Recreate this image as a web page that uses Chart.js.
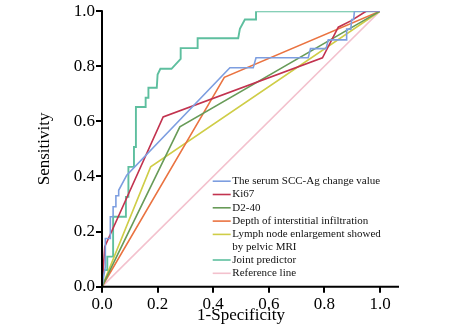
<!DOCTYPE html>
<html>
<head>
<meta charset="utf-8">
<script src="https://cdn.jsdelivr.net/npm/chart.js@4.4.0/dist/chart.umd.min.js"></script>
<style>
  html, body { margin: 0; padding: 0; background: #fff; }
  #rocChart { display: block; }
</style>
</head>
<body>
<canvas id="rocChart" width="473" height="332"></canvas>
<script>
const FONT = "'Liberation Serif', 'Times New Roman', serif";

// tick values on both axes
const axisTicks = [0, 0.2, 0.4, 0.6, 0.8, 1.0];

// ROC curves (x = 1-specificity, y = sensitivity)
const sccX = [0, 0.012, 0.012, 0.03, 0.03, 0.04, 0.04, 0.05, 0.05, 0.06, 0.06, 0.089, 0.46, 0.544, 0.554, 0.742, 0.75, 0.806, 0.814, 0.878, 0.88, 0.895, 0.898, 0.905, 0.908, 1];
const sccY = [0, 0.072, 0.175, 0.175, 0.254, 0.254, 0.29, 0.29, 0.33, 0.33, 0.35, 0.405, 0.795, 0.795, 0.831, 0.831, 0.864, 0.864, 0.896, 0.896, 0.935, 0.935, 0.97, 0.97, 1, 1];

const ki67X = [0, 0.01, 0.22, 0.793, 0.85, 0.895, 0.95, 1];
const ki67Y = [0, 0.145, 0.616, 0.831, 0.942, 0.965, 1, 1];

const d240X = [0, 0.28, 1];
const d240Y = [0, 0.58, 1];

const depthX = [0, 0.44, 1];
const depthY = [0, 0.76, 1];

const lymphX = [0, 0.175, 1];
const lymphY = [0, 0.435, 1];

const jointX = [0, 0.004, 0.019, 0.019, 0.04, 0.04, 0.086, 0.086, 0.095, 0.095, 0.115, 0.115, 0.122, 0.122, 0.157, 0.157, 0.167, 0.167, 0.197, 0.2, 0.21, 0.25, 0.283, 0.283, 0.344, 0.344, 0.49, 0.496, 0.514, 0.554, 0.554, 1];
const jointY = [0, 0.06, 0.06, 0.109, 0.109, 0.254, 0.254, 0.326, 0.326, 0.435, 0.435, 0.507, 0.507, 0.652, 0.652, 0.686, 0.686, 0.722, 0.722, 0.77, 0.791, 0.791, 0.827, 0.866, 0.866, 0.902, 0.902, 0.936, 0.97, 0.97, 1, 1];

const refX = [0, 1];
const refY = [0, 1];

const seriesNames = [
    'The serum SCC-Ag change value',
    'Ki67',
    'D2-40',
    'Depth of interstitial infiltration',
    ['Lymph node enlargement showed', 'by pelvic MRI'],
    'Joint predictor',
    'Reference line'
];

const seriesColors = [
    '#7d9ee0',  // blue
    '#c2334f',  // crimson
    '#689b58',  // green
    '#ea7341',  // orange
    '#cfcd47',  // yellow
    '#5ebf9f',  // teal
    '#f3c1cd'   // pink
];

function toPoints(xs, ys) {
    return xs.map((x, i) => ({ x: x, y: ys[i] }));
}

const seriesData = [
    toPoints(sccX, sccY),
    toPoints(ki67X, ki67Y),
    toPoints(d240X, d240Y),
    toPoints(depthX, depthY),
    toPoints(lymphX, lymphY),
    toPoints(jointX, jointY),
    toPoints(refX, refY)
];

// legend drawn inside the plot, lower right
const insideLegend = {
    id: 'insideLegend',
    afterDraw(chart) {
        const ctx = chart.ctx;
        const area = chart.chartArea;
        const lineX = area.left + 110.7;
        const textX = lineX + 19.6;
        let y = area.bottom - 105.5;
        ctx.save();
        ctx.font = '11px ' + FONT;
        ctx.textBaseline = 'middle';
        ctx.textAlign = 'left';
        chart.data.datasets.forEach((ds, i) => {
            const lines = Array.isArray(seriesNames[i]) ? seriesNames[i] : [seriesNames[i]];
            ctx.strokeStyle = ds.borderColor;
            ctx.lineWidth = 1.6;
            ctx.beginPath();
            ctx.moveTo(lineX, y);
            ctx.lineTo(lineX + 18, y);
            ctx.stroke();
            ctx.fillStyle = '#111';
            lines.forEach((t, k) => ctx.fillText(t, textX, y + k * 12.3));
            y += 13.3 + (lines.length - 1) * 12.3;
        });
        ctx.restore();
    }
};

// outward tick marks and the x axis line running a little past 1.0
const axisMarks = {
    id: 'axisMarks',
    afterDraw(chart) {
        const ctx = chart.ctx;
        const xs = chart.scales.x;
        const ys = chart.scales.y;
        const x0 = xs.getPixelForValue(0);
        const y0 = ys.getPixelForValue(0);
        ctx.save();
        ctx.strokeStyle = '#000';
        ctx.lineWidth = 2;
        ctx.beginPath();
        ctx.moveTo(x0 - 1, y0);
        ctx.lineTo(xs.right + 19, y0);
        ctx.moveTo(x0, y0 + 1);
        ctx.lineTo(x0, ys.getPixelForValue(1) - 1);
        axisTicks.forEach(v => {
            const px = Math.round(xs.getPixelForValue(v));
            ctx.moveTo(px, y0);
            ctx.lineTo(px, y0 + 6);
            const py = Math.round(ys.getPixelForValue(v));
            ctx.moveTo(x0, py);
            ctx.lineTo(x0 - 6, py);
        });
        ctx.stroke();
        ctx.restore();
    }
};

const tickFont = { family: FONT, size: 17 };

const ctx = document.getElementById('rocChart').getContext('2d');
new Chart(ctx, {
    type: 'line',
    data: {
        datasets: seriesData.map((pts, i) => ({
            label: Array.isArray(seriesNames[i]) ? seriesNames[i].join(' ') : seriesNames[i],
            data: pts,
            borderColor: seriesColors[i],
            backgroundColor: seriesColors[i],
            borderWidth: i === 5 ? 1.9 : 1.6,
            pointRadius: 0,
            tension: 0,
            fill: false
        }))
    },
    options: {
        responsive: false,
        animation: false,
        devicePixelRatio: 1,
        layout: { padding: { left: 30, right: 93, top: 9, bottom: 4 } },
        plugins: {
            legend: { display: false },
            tooltip: { enabled: false }
        },
        scales: {
            x: {
                type: 'linear',
                min: 0,
                max: 1,
                afterBuildTicks(scale) {
                    scale.ticks = axisTicks.map(v => ({ value: v }));
                },
                afterFit(scale) { scale.height = 41.3; },
                ticks: {
                    font: tickFont,
                    color: '#000',
                    padding: 2,
                    maxRotation: 0,
                    callback: v => v.toFixed(1)
                },
                grid: { display: false, tickLength: 6 },
                border: { display: false },
                title: {
                    display: true,
                    text: '1-Specificity',
                    font: tickFont,
                    color: '#000',
                    padding: { top: 1, bottom: 2 }
                }
            },
            y: {
                type: 'linear',
                min: 0,
                max: 1,
                afterBuildTicks(scale) {
                    scale.ticks = axisTicks.map(v => ({ value: v }));
                },
                afterFit(scale) { scale.width = 72; },
                ticks: {
                    font: tickFont,
                    color: '#000',
                    padding: 1,
                    callback: v => v.toFixed(1)
                },
                grid: { display: true, drawOnChartArea: false, tickLength: 6, color: 'rgba(0,0,0,0)' },
                border: { display: false },
                title: {
                    display: true,
                    text: 'Sensitivity',
                    font: tickFont,
                    color: '#000',
                    padding: { top: 4, bottom: 4 }
                }
            }
        }
    },
    plugins: [insideLegend, axisMarks]
});
</script>
</body>
</html>
